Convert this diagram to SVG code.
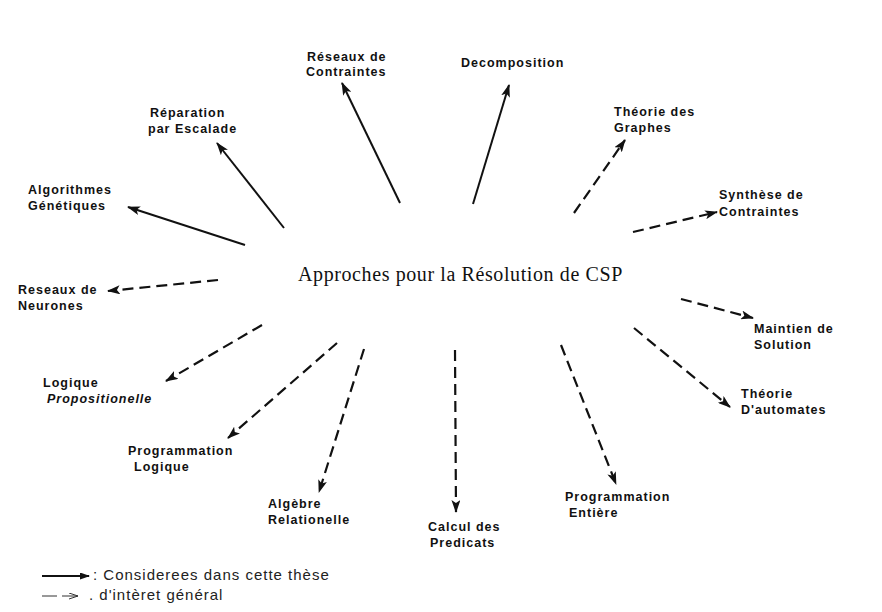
<svg xmlns="http://www.w3.org/2000/svg" width="882" height="612" viewBox="0 0 882 612">
<style>
.lbl{font-family:"Liberation Sans",Arial,sans-serif;font-weight:bold;font-size:12.5px;letter-spacing:1px;fill:#111}
.it{font-style:italic}
.title{font-family:"Liberation Serif","Times New Roman",serif;font-size:20px;letter-spacing:0.6px;fill:#111}
.leg{font-family:"Liberation Sans",Arial,sans-serif;font-size:15px;letter-spacing:1px;fill:#222}
.solid{stroke:#111;stroke-width:2;fill:none}
.dash{stroke:#111;stroke-width:2.2;fill:none;stroke-dasharray:11 6}
</style>
<defs>
<marker id="ah" markerUnits="userSpaceOnUse" markerWidth="13" markerHeight="9" refX="12" refY="4.5" orient="auto">
<path d="M0,0 L13,4.5 L0,9 L3,4.5 Z" fill="#111"/>
</marker>
<marker id="ahs" markerUnits="userSpaceOnUse" markerWidth="10" markerHeight="7" refX="9" refY="3.5" orient="auto">
<path d="M0,0 L10,3.5 L0,7 Z" fill="#111"/>
</marker>
<marker id="aho" markerUnits="userSpaceOnUse" markerWidth="10" markerHeight="7" refX="9" refY="3.5" orient="auto">
<path d="M0,0.5 L9,3.5 L0,6.5" fill="none" stroke="#333" stroke-width="1"/>
</marker>
</defs>
<rect width="882" height="612" fill="#fff"/>

<g id="center"><text class="title" x="298" y="281">Approches pour la Résolution de CSP</text></g>

<g id="connectors">
<line class="solid" x1="400" y1="203" x2="342" y2="83" marker-end="url(#ah)"/>
<line class="solid" x1="284" y1="228" x2="217" y2="143" marker-end="url(#ah)"/>
<line class="solid" x1="245" y1="245" x2="128" y2="207" marker-end="url(#ah)"/>
<line class="solid" x1="473" y1="204" x2="509" y2="85" marker-end="url(#ah)"/>
<line class="dash" x1="574" y1="213" x2="625" y2="140" marker-end="url(#ah)"/>
<line class="dash" x1="633" y1="232" x2="717" y2="212" marker-end="url(#ah)"/>
<line class="dash" x1="218" y1="280" x2="108" y2="291" marker-end="url(#ah)"/>
<line class="dash" x1="262" y1="325" x2="166" y2="381" marker-end="url(#ah)"/>
<line class="dash" x1="337" y1="343" x2="228" y2="438" marker-end="url(#ah)"/>
<line class="dash" x1="364" y1="349" x2="319" y2="492" marker-end="url(#ah)"/>
<line class="dash" x1="455" y1="350" x2="456" y2="512" marker-end="url(#ah)"/>
<line class="dash" x1="561" y1="345" x2="616" y2="484" marker-end="url(#ah)"/>
<line class="dash" x1="681" y1="299" x2="753" y2="318" marker-end="url(#ah)"/>
<line class="dash" x1="634" y1="328" x2="730" y2="407" marker-end="url(#ah)"/>
</g>

<g id="reseaux-contraintes"><text class="lbl" x="307" y="61">Réseaux de</text><text class="lbl" x="306" y="76">Contraintes</text></g>
<g id="decomposition"><text class="lbl" x="461" y="67">Decomposition</text></g>
<g id="theorie-graphes"><text class="lbl" x="614" y="116">Théorie des</text><text class="lbl" x="614" y="132">Graphes</text></g>
<g id="synthese"><text class="lbl" x="719" y="199">Synthèse de</text><text class="lbl" x="719" y="216">Contraintes</text></g>
<g id="reparation"><text class="lbl" x="150" y="117">Réparation</text><text class="lbl" x="148" y="133">par Escalade</text></g>
<g id="algorithmes"><text class="lbl" x="28" y="194">Algorithmes</text><text class="lbl" x="28" y="210">Génétiques</text></g>
<g id="neurones"><text class="lbl" x="18" y="294">Reseaux de</text><text class="lbl" x="18" y="310">Neurones</text></g>
<g id="maintien"><text class="lbl" x="754" y="333">Maintien de</text><text class="lbl" x="754" y="349">Solution</text></g>
<g id="automates"><text class="lbl" x="741" y="398">Théorie</text><text class="lbl" x="741" y="414">D'automates</text></g>
<g id="logique-prop"><text class="lbl" x="43" y="387">Logique</text><text class="lbl it" x="47" y="403">Propositionelle</text></g>
<g id="prog-logique"><text class="lbl" x="128" y="455">Programmation</text><text class="lbl" x="134" y="471">Logique</text></g>
<g id="algebre"><text class="lbl" x="268" y="508">Algèbre</text><text class="lbl" x="268" y="524">Relationelle</text></g>
<g id="calcul"><text class="lbl" x="428" y="531">Calcul des</text><text class="lbl" x="430" y="547">Predicats</text></g>
<g id="prog-entiere"><text class="lbl" x="565" y="501">Programmation</text><text class="lbl" x="569" y="517">Entière</text></g>

<g id="legend">
<line class="solid" x1="42" y1="576" x2="89" y2="576" marker-end="url(#ahs)"/>
<text class="leg" x="93" y="580">: Considerees dans cette thèse</text>
<line x1="42" y1="596" x2="57" y2="596" stroke="#333" stroke-width="1"/>
<line x1="62" y1="596" x2="78" y2="596" stroke="#333" stroke-width="1" marker-end="url(#aho)"/>
<text class="leg" x="89" y="600">. d'intèret général</text>
</g>
</svg>
